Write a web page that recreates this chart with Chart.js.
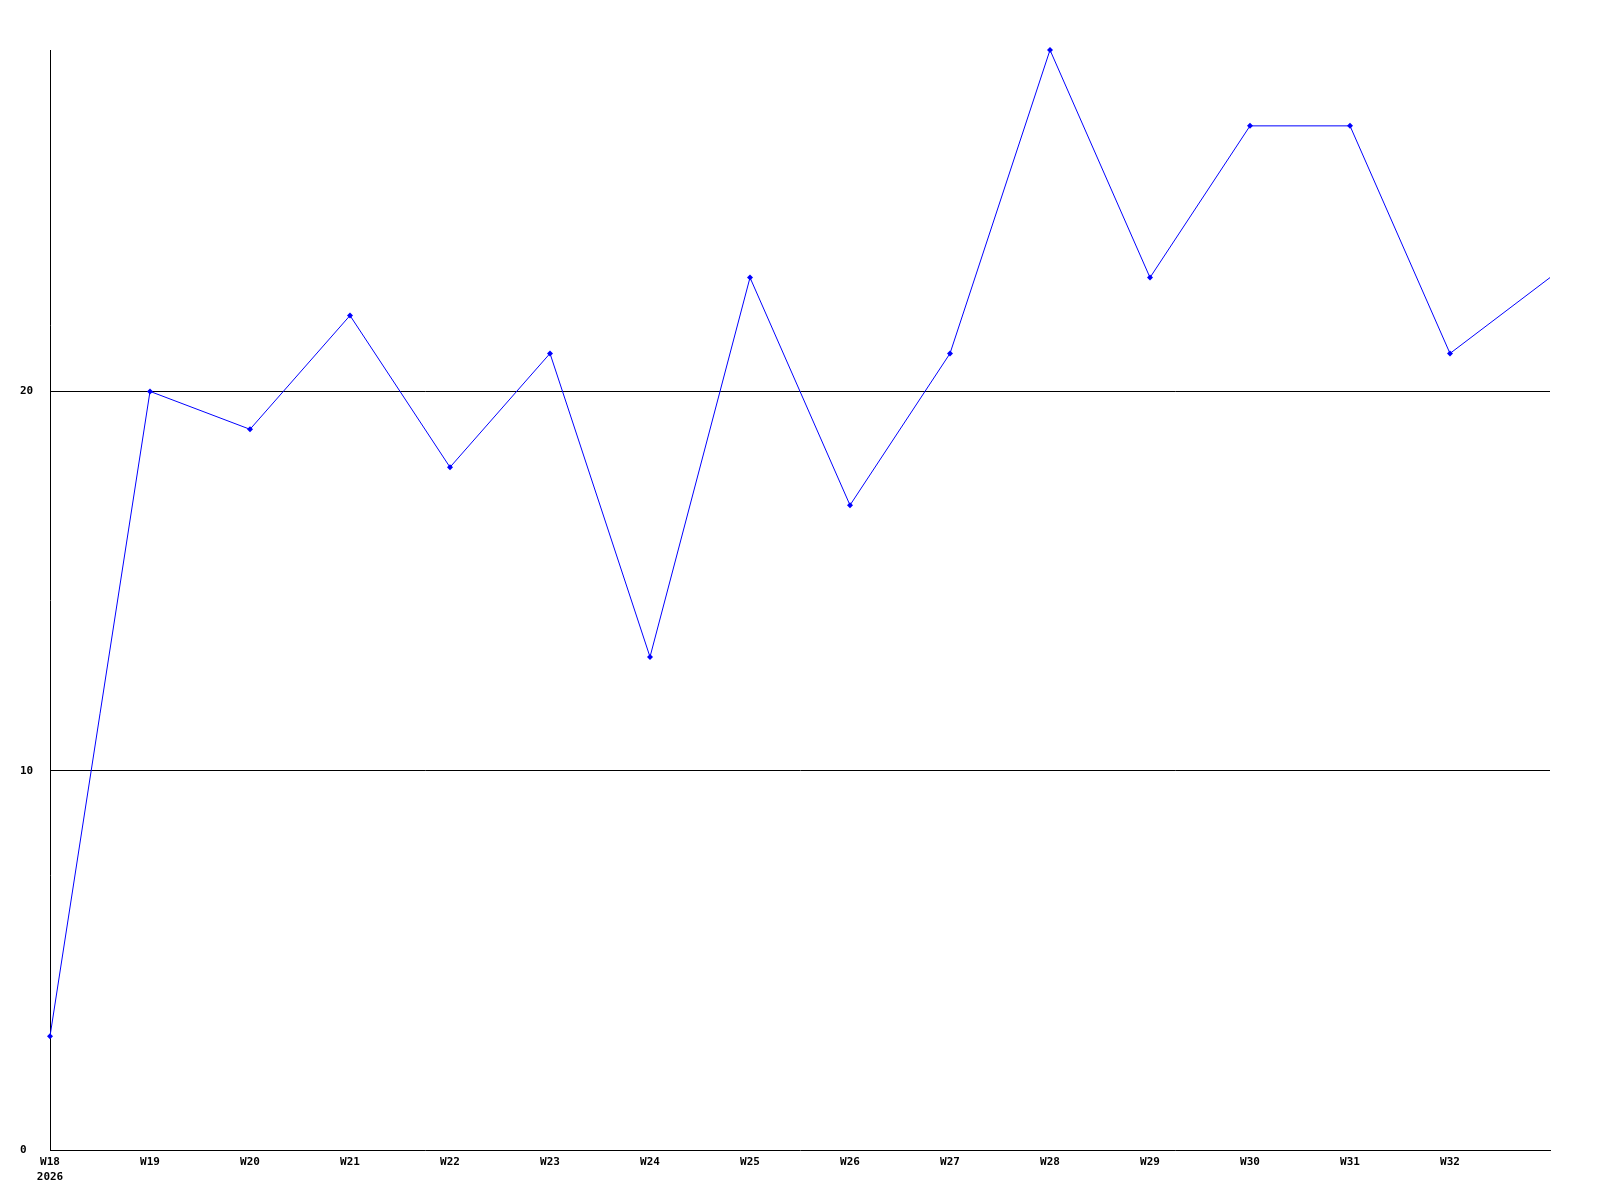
<!DOCTYPE html>
<html>
<head>
<meta charset="utf-8">
<script src="https://cdn.jsdelivr.net/npm/chart.js@4/dist/chart.umd.min.js"></script>
<style>
    html, body { margin: 0; padding: 0; background: #fff; }
    #wrap { width: 1600px; height: 1200px; }
</style>
</head>
<body>
<div id="wrap"><canvas id="weekChart" width="1600" height="1200"></canvas></div>
<script>
// Semaines (la dernière n'a ni étiquette ni marqueur)
const weeks = [['W18', '2026'], 'W19', 'W20', 'W21', 'W22', 'W23', 'W24', 'W25',
    'W26', 'W27', 'W28', 'W29', 'W30', 'W31', 'W32', 'W33'];
const counts = [3, 20, 19, 22, 18, 21, 13, 23, 17, 21, 29, 23, 27, 27, 21, 23];
const yMax = 29;
const yStep = 10;

const tickFont = { family: "'DejaVu Sans Mono', 'Liberation Mono', monospace", size: 11, weight: 'bold', lineHeight: 1.35 };
const lastIndex = weeks.length - 1;

new Chart(document.getElementById('weekChart').getContext('2d'), {
    type: 'line',
    data: {
        labels: weeks,
        datasets: [{
            data: counts,
            borderColor: '#0000ff',
            backgroundColor: '#0000ff',
            borderWidth: 1,
            tension: 0,
            fill: false,
            clip: false,
            pointStyle: 'rectRot',
            pointRadius: (ctx) => ctx.dataIndex === lastIndex ? 0 : 3,
            pointBorderWidth: 0,
            pointBackgroundColor: '#0000ff'
        }]
    },
    options: {
        responsive: false,
        animation: false,
        layout: { padding: { left: 20, top: 50, right: 50, bottom: 0 } },
        plugins: { legend: { display: false }, tooltip: { enabled: false } },
        scales: {
            x: {
                offset: false,
                grid: { display: false, drawTicks: false },
                border: { display: true, color: '#000', width: 1 },
                ticks: {
                    autoSkip: false,
                    maxRotation: 0,
                    padding: 5,
                    color: '#000',
                    font: tickFont,
                    callback: function(value, index) {
                        return index === lastIndex ? '' : this.getLabelForValue(value);
                    }
                },
                afterFit: (scale) => { scale.height = 50; }
            },
            y: {
                min: 0,
                max: yMax,
                grid: {
                    drawTicks: false,
                    color: (ctx) => ctx.tick && ctx.tick.value > 0 ? '#000' : 'rgba(0,0,0,0)'
                },
                border: { display: true, color: '#000', width: 1 },
                ticks: {
                    stepSize: yStep,
                    includeBounds: false,
                    crossAlign: 'far',
                    padding: 0,
                    color: '#000',
                    font: tickFont
                },
                afterFit: (scale) => { scale.width = 30; }
            }
        }
    }
});
</script>
</body>
</html>
